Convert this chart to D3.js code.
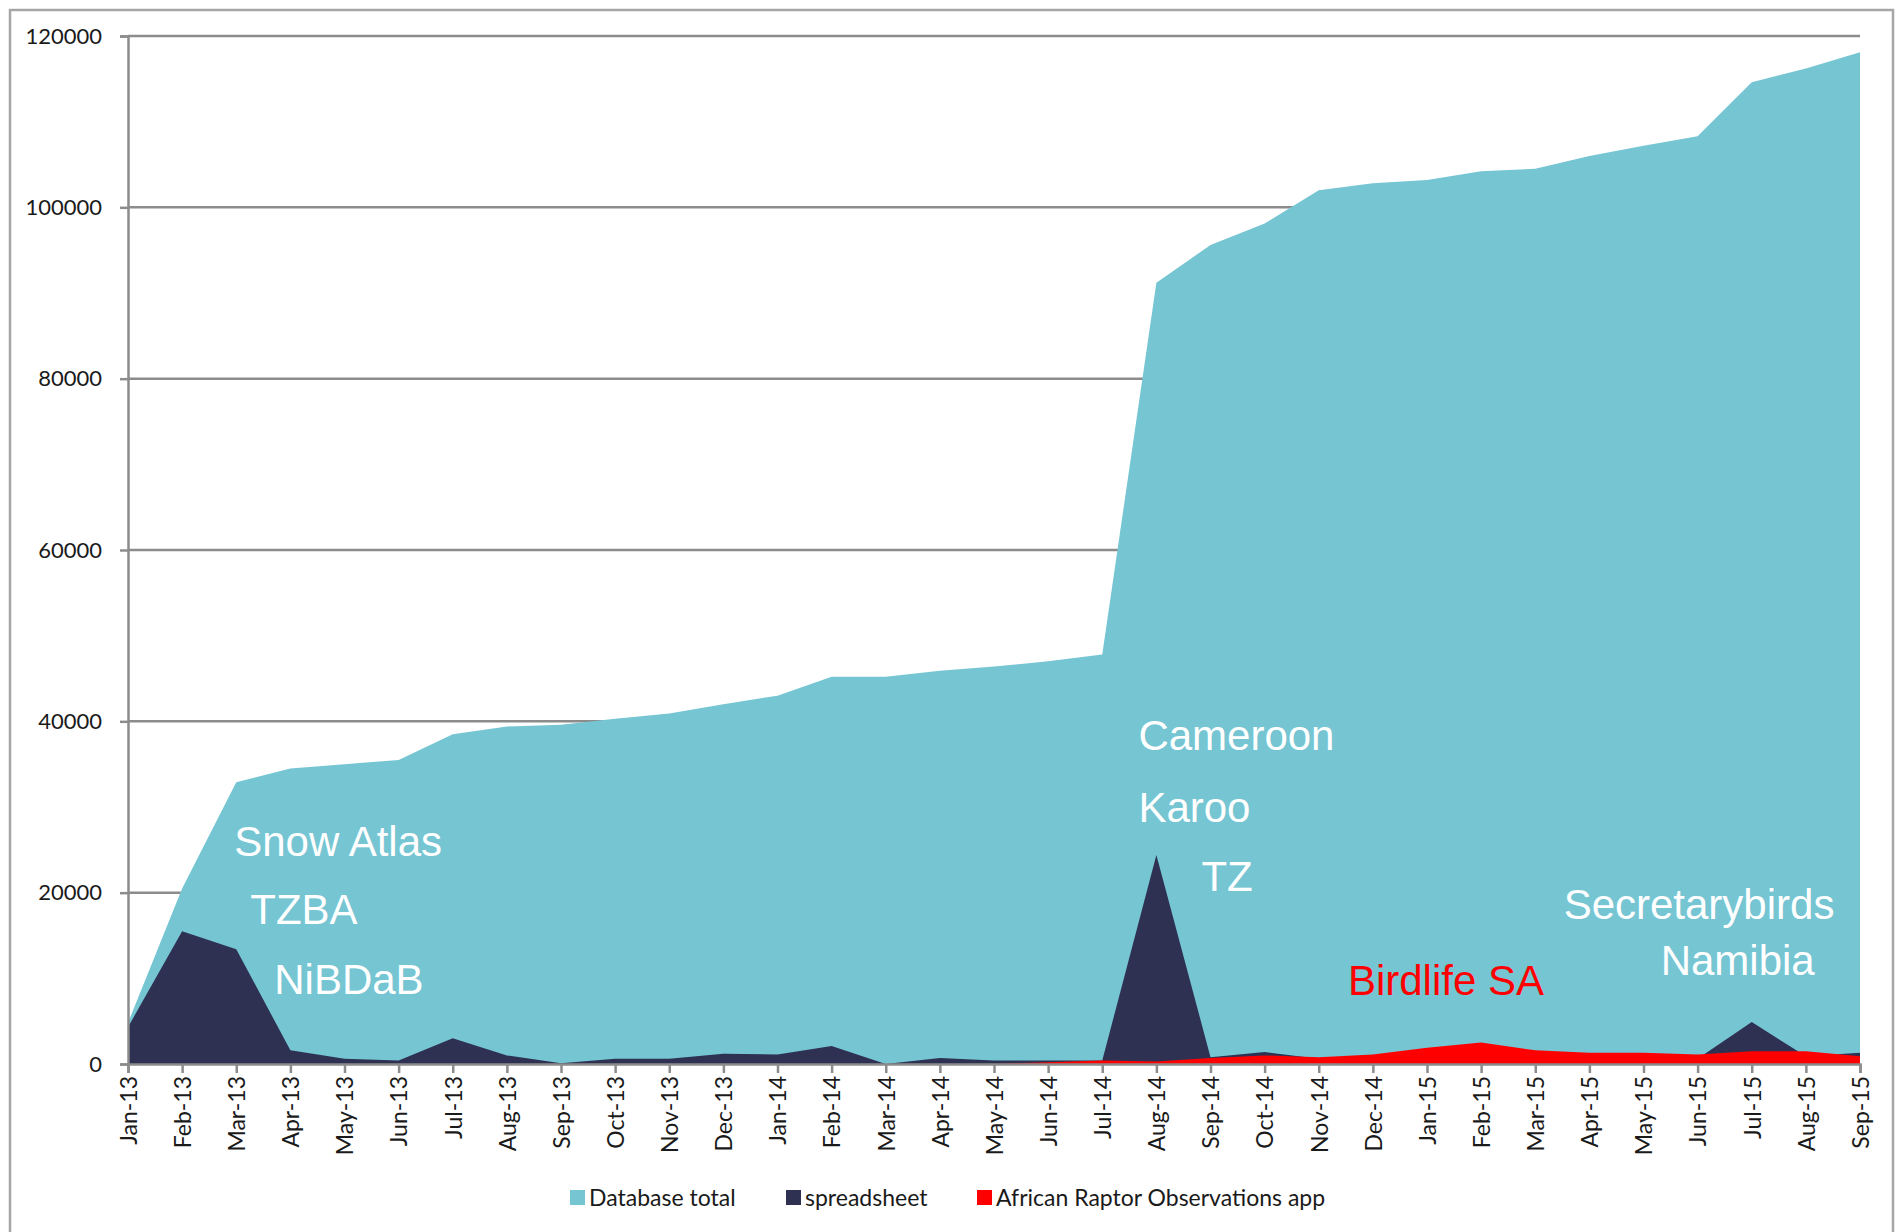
<!DOCTYPE html>
<html>
<head>
<meta charset="utf-8">
<script src="https://cdn.jsdelivr.net/npm/d3@7"></script>
<style>
    body { margin: 0; background: white; }
</style>
</head>
<body>
<svg width="1904" height="1232"></svg>
<script>
    let margin = { top: 36, right: 44, bottom: 170, left: 128 };
    let width = 1904;
    let height = 1232;

    let months = ["Jan-13", "Feb-13", "Mar-13", "Apr-13", "May-13", "Jun-13", "Jul-13", "Aug-13", "Sep-13", "Oct-13", "Nov-13", "Dec-13",
        "Jan-14", "Feb-14", "Mar-14", "Apr-14", "May-14", "Jun-14", "Jul-14", "Aug-14", "Sep-14", "Oct-14", "Nov-14", "Dec-14",
        "Jan-15", "Feb-15", "Mar-15", "Apr-15", "May-15", "Jun-15", "Jul-15", "Aug-15", "Sep-15"]

    let databaseTotal = [4800, 20500, 32900, 34500, 35000, 35500, 38500, 39400, 39600, 40300, 40900, 42000,
        43000, 45200, 45200, 45900, 46400, 47000, 47800, 91200, 95600, 98100, 102000, 102800,
        103200, 104200, 104500, 106000, 107200, 108300, 114600, 116200, 118100]

    let spreadsheet = [4300, 15500, 13400, 1600, 600, 400, 3000, 1000, 100, 600, 600, 1200,
        1100, 2100, 0, 700, 400, 400, 400, 24400, 800, 1400, 600, 700,
        900, 1000, 800, 700, 700, 600, 4900, 900, 1300]

    let appObs = [0, 0, 0, 0, 0, 0, 0, 0, 0, 0, 0, 0,
        0, 0, 0, 0, 0, 200, 400, 300, 700, 1000, 800, 1100,
        1900, 2500, 1600, 1300, 1300, 1100, 1500, 1500, 900]

    let yTicks = [0, 20000, 40000, 60000, 80000, 100000, 120000]

    let seriesNames = ["Database total", "spreadsheet", "African Raptor Observations app"]
    let seriesColors = ["#75c5d3", "#2e3152", "#ff0000"]

    let annotations = [
        { text: "Snow Atlas", month: "Mar-13", dx: -2, value: 24300, color: "white" },
        { text: "TZBA", month: "Mar-13", dx: 14, value: 16400, color: "white" },
        { text: "NiBDaB", month: "Mar-13", dx: 38, value: 8200, color: "white" },
        { text: "Cameroon", month: "Aug-14", dx: -18, value: 36700, color: "white" },
        { text: "Karoo", month: "Aug-14", dx: -18, value: 28300, color: "white" },
        { text: "TZ", month: "Aug-14", dx: 45, value: 20200, color: "white" },
        { text: "Birdlife SA", month: "Dec-14", dx: -25, value: 8100, color: "#ff0000" },
        { text: "Secretarybirds", month: "Jun-15", dx: -134, value: 16900, color: "white" },
        { text: "Namibia", month: "Jun-15", dx: -37, value: 10400, color: "white" }
    ]

    let data = months.map(function (m, i) {
        return { month: m, total: databaseTotal[i], sheet: spreadsheet[i], app: appObs[i] }
    })

    let svg = d3.select("body").select("svg")

    // outer frame
    svg.append("rect")
        .attr("x", 10)
        .attr("y", 10)
        .attr("width", 1883)
        .attr("height", 1250)
        .style("fill", "none")
        .style("stroke", "#a6a6a6")
        .style("stroke-width", 2.5)

    let x = d3.scalePoint()
        .domain(months)
        .range([margin.left, width - margin.right])

    let y = d3.scaleLinear()
        .domain([0, 120000])
        .range([height - margin.bottom + 2, margin.top])

    let yAxisSettings = d3.axisLeft(y)
        .tickValues(yTicks)
        .tickSize(8)
        .tickPadding(18)
        .tickFormat(d3.format("d"))

    // gridlines sit behind the areas
    svg.append("g")
        .attr("class", "grid")
        .selectAll("line")
        .data(yTicks.filter(d => d > 0))
        .join("line")
        .attr("x1", margin.left)
        .attr("x2", width - margin.right)
        .attr("y1", d => y(d))
        .attr("y2", d => y(d))
        .style("stroke", "#8c8c8c")
        .style("stroke-width", 2.5)

    let area = function (key) {
        return d3.area()
            .x(function (d) { return x(d.month) })
            .y0(y(0))
            .y1(function (d) { return y(d[key]) })
    }

    let keys = ["total", "sheet", "app"]
    svg.append("g")
        .selectAll("path")
        .data(keys)
        .join("path")
        .attr("d", function (k) { return area(k)(data) })
        .style("fill", function (k, i) { return seriesColors[i] })
        .style("stroke", "none")

    let yAxisTicks = svg.append("g")
        .attr("class", "y axis")
        .attr("transform", `translate(${margin.left}, 0)`)
        .call(yAxisSettings)

    let xAxisTicks = svg.append("g")
        .attr("class", "x axis")
        .attr("transform", `translate(0, ${y(0)})`)
        .call(d3.axisBottom(x).tickSize(9).tickPadding(10))

    xAxisTicks.selectAll("text")
        .attr("transform", "rotate(-90)")
        .attr("x", -12)
        .attr("y", 0)
        .attr("dy", "0.36em")
        .style("text-anchor", "end")

    svg.selectAll(".axis path, .axis line")
        .style("stroke", "#8c8c8c")
        .style("stroke-width", 2.5)

    svg.selectAll(".axis text")
        .style("font-family", "Lato")
        .style("font-size", "22px")
        .style("fill", "#1a1a1a")

    xAxisTicks.selectAll("text")
        .style("font-size", "23px")

    // annotations
    svg.append("g")
        .selectAll("text")
        .data(annotations)
        .join("text")
        .attr("x", d => x(d.month) + d.dx)
        .attr("y", d => y(d.value))
        .text(d => d.text)
        .style("font-family", "Liberation Sans, Arial")
        .style("font-size", "42px")
        .style("fill", d => d.color)

    // legend
    let legendX = [570, 786, 977]
    let legend = svg.append("g")
        .selectAll("g")
        .data(seriesNames)
        .join("g")
        .attr("transform", (d, i) => `translate(${legendX[i]}, 1198)`)

    legend.append("rect")
        .attr("x", 0)
        .attr("y", -8)
        .attr("width", 15)
        .attr("height", 15)
        .style("fill", (d, i) => seriesColors[i])

    legend.append("text")
        .attr("x", 19)
        .attr("y", 0)
        .attr("dy", "0.35em")
        .text(d => d)
        .style("font-family", "Lato")
        .style("font-size", "23px")
        .style("fill", "#1a1a1a")
</script>
</body>
</html>
